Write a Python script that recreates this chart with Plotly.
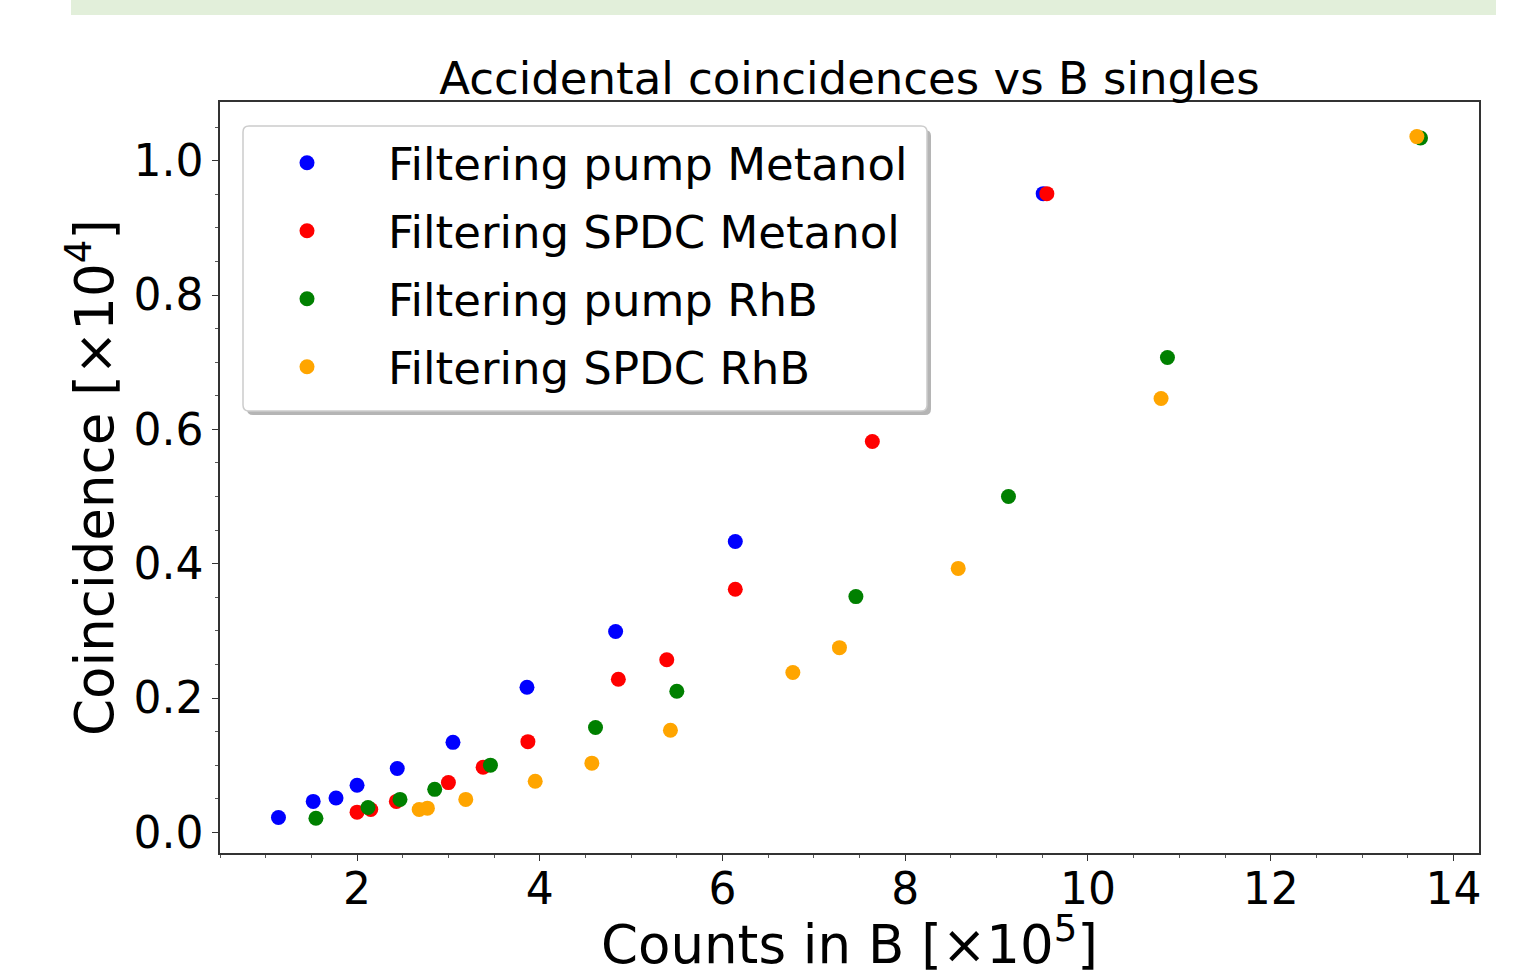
import plotly.graph_objects as go

# Counts in B [x1e5] vs accidental coincidences [x1e4]
pump_met_x = [1.14, 1.52, 1.77, 2.00, 2.44, 3.05, 3.86, 4.83, 6.14, 9.51]
pump_met_y = [0.022, 0.046, 0.051, 0.070, 0.095, 0.134, 0.216, 0.299, 0.433, 0.951]

spdc_met_x = [2.00, 2.15, 2.43, 3.00, 3.38, 3.87, 4.86, 5.39, 6.14, 7.64, 9.55]
spdc_met_y = [0.030, 0.034, 0.046, 0.074, 0.097, 0.135, 0.228, 0.257, 0.362, 0.582, 0.951]

pump_rhb_x = [1.55, 2.12, 2.47, 2.85, 3.46, 4.61, 5.50, 7.46, 9.13, 10.87, 13.64]
pump_rhb_y = [0.021, 0.037, 0.049, 0.064, 0.100, 0.156, 0.210, 0.351, 0.500, 0.707, 1.034]

spdc_rhb_x = [2.68, 2.77, 3.19, 3.95, 4.57, 5.43, 6.77, 7.28, 8.58, 10.80, 13.60]
spdc_rhb_y = [0.034, 0.036, 0.049, 0.076, 0.103, 0.152, 0.238, 0.275, 0.393, 0.646, 1.036]

series = [
    ("Filtering pump Metanol", pump_met_x, pump_met_y, "blue"),
    ("Filtering SPDC Metanol", spdc_met_x, spdc_met_y, "red"),
    ("Filtering pump RhB", pump_rhb_x, pump_rhb_y, "green"),
    ("Filtering SPDC RhB", spdc_rhb_x, spdc_rhb_y, "orange"),
]

FONT = "DejaVu Sans"

fig = go.Figure()
for i, (name, xs, ys, col) in enumerate(series):
    fig.add_trace(go.Scatter(x=xs, y=ys, mode="markers", name=name, legendgroup=str(i),
                             marker=dict(color=col, size=15, line=dict(width=0))))


def rounded_box(x0, y0, x1, y1, rx, ry):
    return (f"M{x0+rx},{y0} L{x1-rx},{y0} Q{x1},{y0} {x1},{y0+ry} "
            f"L{x1},{y1-ry} Q{x1},{y1} {x1-rx},{y1} L{x0+rx},{y1} "
            f"Q{x0},{y1} {x0},{y1-ry} L{x0},{y0+ry} Q{x0},{y0} {x0+rx},{y0} Z")


W, H = 1540, 972
L, R, T, B = 220, 61, 102, 119
pw, ph = W - L - R, H - T - B


def px(xp):
    return (xp - L) / pw


def py(yp):
    return (H - B - yp) / ph


shapes = [
    # light green band at the very top
    dict(type="rect", xref="paper", yref="paper", x0=px(71), x1=px(1496), y0=py(15), y1=py(-5),
         fillcolor="#e2efda", line=dict(width=0), layer="below"),
    # legend shadow
    dict(type="path", xref="paper", yref="paper",
         path=rounded_box(px(247), py(415), px(931), py(130), 6 / pw, 6 / ph),
         fillcolor="#b5b5b5", line=dict(width=0), layer="above"),
    # legend frame
    dict(type="path", xref="paper", yref="paper",
         path=rounded_box(px(243), py(411), px(927), py(126), 6 / pw, 6 / ph),
         fillcolor="white", line=dict(color="#cccccc", width=1.5), layer="above"),
]

# x-axis title as annotation so it can sit low, partly cut by the page edge like the original
annotations = [
    dict(text="Counts in B [×10<sup>5</sup>]", xref="paper", yref="paper",
         x=0.5, y=py(941), xanchor="center", yanchor="middle", showarrow=False,
         font=dict(size=53, family=FONT, color="black")),
]

fig.update_layout(
    width=W, height=H,
    margin=dict(l=L, r=R, t=T, b=B),
    paper_bgcolor="white", plot_bgcolor="white",
    font=dict(family=FONT, color="black"),
    title=dict(text="Accidental coincidences vs B singles", x=0.5, xref="paper",
               y=1 - 78 / H, yref="container", yanchor="middle",
               font=dict(size=45, family=FONT, color="black")),
    showlegend=True,
    legend=dict(x=px(226), y=py(127), xanchor="left", yanchor="top",
                bgcolor="rgba(0,0,0,0)", borderwidth=0,
                font=dict(size=45, family=FONT, color="black"),
                itemwidth=152, tracegroupgap=6.5),
    shapes=shapes,
    annotations=annotations,
)

fig.update_xaxes(
    range=[0.50, 14.28], tickvals=[2, 4, 6, 8, 10, 12, 14],
    showgrid=False, zeroline=False,
    showline=True, linecolor="#333333", linewidth=1.5, mirror=True,
    ticks="outside", ticklen=6, tickwidth=1.2, tickcolor="#333333",
    minor=dict(dtick=0.5, tick0=0, ticks="outside", ticklen=3, tickwidth=1, tickcolor="#555555"),
    tickfont=dict(size=44, family=FONT, color="black"),
    ticklabelstandoff=-10,
    automargin=False,
)
fig.update_yaxes(
    range=[-0.0308, 1.0875], tickvals=[0.0, 0.2, 0.4, 0.6, 0.8, 1.0],
    ticktext=["0.0", "0.2", "0.4", "0.6", "0.8", "1.0"],
    showgrid=False, zeroline=False,
    showline=True, linecolor="#333333", linewidth=1.5, mirror=True,
    ticks="outside", ticklen=6, tickwidth=1.2, tickcolor="#333333",
    minor=dict(dtick=0.05, tick0=0, ticks="outside", ticklen=3, tickwidth=1, tickcolor="#555555"),
    tickfont=dict(size=44, family=FONT, color="black"),
    title=dict(text="Coincidence [×10<sup>4</sup>]", standoff=3,
               font=dict(size=53, family=FONT, color="black")),
    automargin=False,
)

# drop the default page margin so the figure sits at the window's top-left corner
fig.write_html("out.html", config={"displayModeBar": False},
               post_script="document.body.style.margin='0px';")
